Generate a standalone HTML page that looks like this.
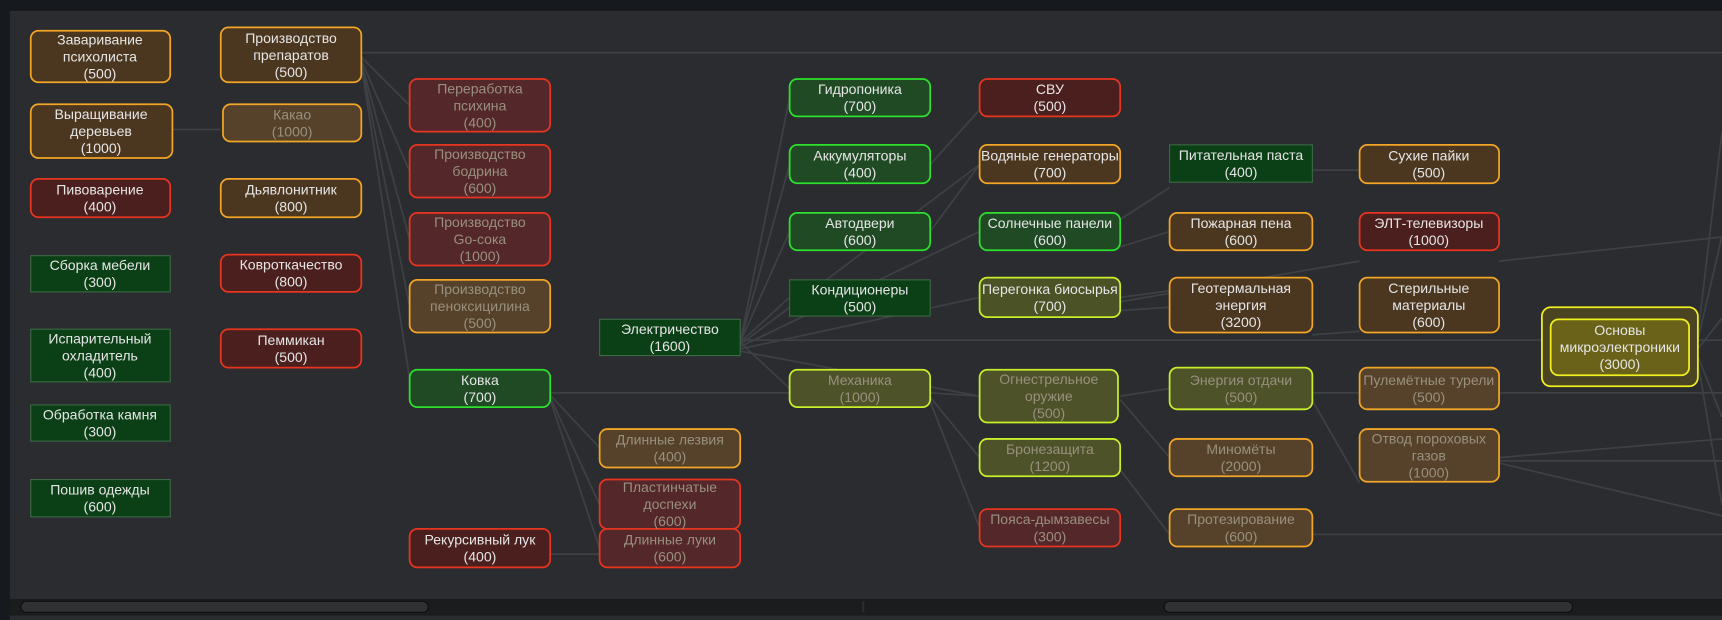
<!DOCTYPE html>
<html><head><meta charset="utf-8"><style>
html,body{margin:0;padding:0;background:#16191d;}
svg{display:block;}
text{font-family:"Liberation Sans","DejaVu Sans",sans-serif;font-size:12.8px;text-anchor:middle;}
</style></head><body>
<svg width="1722" height="620" viewBox="0 0 1568 565" preserveAspectRatio="none" xmlns="http://www.w3.org/2000/svg">
<rect x="0" y="0" width="1568" height="565" fill="#16191d"/>
<rect x="9" y="10" width="1559" height="536" fill="#2a2c2f"/>
<g stroke="#3d4044" stroke-width="1.6" fill="none">
<path d="M329 48 L1568 48"/>
<path d="M329 52 L373 96 M329 55 L373 156 M329 57 L373 218 M329 58 L373 279 M329 59 L373 345"/>
<path d="M155 118 L201 118"/>
<path d="M674 312 L719 89 M674 312 L719 150 M674 312 L719 211 M674 312 L719 271 M674 312 L719 354"/>
<path d="M674 310 L1404 310 M1546 310 L1568 310"/>
<path d="M674 314 L892 150 M674 316 L892 211 M674 318 L892 271 M674 320 L892 361"/>
<path d="M847 150 L892 100 M847 211 L892 150"/>
<path d="M501 358 L719 358"/>
<path d="M501 360 L546 408 M501 362 L546 460 M501 364 L546 500"/>
<path d="M501 505 L546 505"/>
<path d="M847 358 L892 361 M847 362 L892 417 M847 366 L892 481"/>
<path d="M1020 361 L1065 354 M1020 364 L1065 417"/>
<path d="M1020 428 L1065 487"/>
<path d="M1195 358 L1238 358 M1195 365 L1238 440"/>
<path d="M1195 155 L1238 155"/>
<path d="M1020 200 L1065 171 M1020 225 L1065 211 M1020 271 L1065 265 M1020 283 L1065 280"/>
<path d="M1020 275 L1238 238"/>
<path d="M1365 238 L1568 216"/>
<path d="M1195 305 L1238 302"/>
<path d="M1195 487 L1568 487"/>
<path d="M1365 358 L1568 358"/>
<path d="M1365 417 L1568 400 M1365 420 L1568 420 M1365 422 L1568 470"/>
<path d="M1546 305 L1568 120 M1546 310 L1568 215 M1546 318 L1568 290 M1546 325 L1568 380 M1546 330 L1568 460"/>
</g>
<g stroke-width="1.6">
<g fill="#4b3620" stroke="#f2a526">
<rect x="28" y="28" width="127" height="47" rx="7"/>
<rect x="28" y="95" width="129" height="49" rx="7"/>
<rect x="201" y="25" width="128" height="50" rx="7"/>
<rect x="201" y="163" width="128" height="35" rx="7"/>
<rect x="892" y="132" width="128" height="35" rx="7"/>
<rect x="1065" y="194" width="130" height="34" rx="7"/>
<rect x="1065" y="253" width="130" height="50" rx="7"/>
<rect x="1238" y="132" width="127" height="35" rx="7"/>
<rect x="1238" y="253" width="127" height="50" rx="7"/>
</g>
<g fill="#56422a" stroke="#f2a526">
<rect x="203" y="95" width="126" height="34" rx="7"/>
<rect x="373" y="255" width="128" height="48" rx="7"/>
<rect x="546" y="391" width="128" height="35" rx="7"/>
<rect x="1065" y="400" width="130" height="34" rx="7"/>
<rect x="1065" y="464" width="130" height="34" rx="7"/>
<rect x="1238" y="335" width="127" height="38" rx="7"/>
<rect x="1238" y="391" width="127" height="48" rx="7"/>
</g>
<g fill="#4a1f1e" stroke="#e8351f">
<rect x="28" y="163" width="127" height="35" rx="7"/>
<rect x="201" y="232" width="128" height="34" rx="7"/>
<rect x="201" y="300" width="128" height="35" rx="7"/>
<rect x="373" y="482" width="128" height="35" rx="7"/>
<rect x="892" y="72" width="128" height="34" rx="7"/>
<rect x="1238" y="194" width="127" height="34" rx="7"/>
</g>
<g fill="#54272a" stroke="#e8351f">
<rect x="373" y="72" width="128" height="48" rx="7"/>
<rect x="373" y="132" width="128" height="48" rx="7"/>
<rect x="373" y="194" width="128" height="48" rx="7"/>
<rect x="546" y="437" width="128" height="45" rx="7"/>
<rect x="546" y="482" width="128" height="35" rx="7"/>
<rect x="892" y="464" width="128" height="34" rx="7"/>
</g>
<g fill="#1f4a24" stroke="#2ee02e">
<rect x="373" y="337" width="128" height="34" rx="7"/>
<rect x="719" y="72" width="128" height="34" rx="7"/>
<rect x="719" y="132" width="128" height="35" rx="7"/>
<rect x="719" y="194" width="128" height="34" rx="7"/>
<rect x="892" y="194" width="128" height="34" rx="7"/>
</g>
<g fill="#0b3f16" stroke="#3b6a44" stroke-width="1">
<rect x="28" y="233" width="127" height="33"/>
<rect x="28" y="300" width="127" height="48"/>
<rect x="28" y="369" width="127" height="33"/>
<rect x="28" y="437" width="127" height="34"/>
<rect x="546" y="291" width="128" height="33"/>
<rect x="719" y="255" width="128" height="33"/>
<rect x="1065" y="132" width="130" height="34"/>
</g>
<g fill="#4a5226" stroke="#c8f02a">
<rect x="892" y="253" width="128" height="36" rx="7"/>
</g>
<g fill="#4e5228" stroke="#c8f02a">
<rect x="719" y="337" width="128" height="34" rx="7"/>
<rect x="892" y="337" width="126" height="48" rx="7"/>
<rect x="892" y="400" width="128" height="34" rx="7"/>
<rect x="1065" y="335" width="130" height="38" rx="7"/>
</g>
<rect x="1404" y="280" width="142" height="72" rx="8" fill="#4b4422" stroke="#f0f020"/>
<rect x="1412" y="291" width="126" height="51" rx="7" fill="#6a6218" stroke="#f0f020"/>
</g>
<g fill="#e6e6e6">
<text x="91" y="40.5">Заваривание<tspan x="91" dy="15.5">психолиста</tspan><tspan x="91" dy="15.5">(500)</tspan></text>
<text x="92" y="108.5">Выращивание<tspan x="92" dy="15.5">деревьев</tspan><tspan x="92" dy="15.5">(1000)</tspan></text>
<text x="91" y="177.25">Пивоварение<tspan x="91" dy="15.5">(400)</tspan></text>
<text x="91" y="246.25">Сборка мебели<tspan x="91" dy="15.5">(300)</tspan></text>
<text x="91" y="313">Испарительный<tspan x="91" dy="15.5">охладитель</tspan><tspan x="91" dy="15.5">(400)</tspan></text>
<text x="91" y="382.25">Обработка камня<tspan x="91" dy="15.5">(300)</tspan></text>
<text x="91" y="450.75">Пошив одежды<tspan x="91" dy="15.5">(600)</tspan></text>
<text x="265" y="39">Производство<tspan x="265" dy="15.5">препаратов</tspan><tspan x="265" dy="15.5">(500)</tspan></text>
<text x="265" y="177.25">Дьявлонитник<tspan x="265" dy="15.5">(800)</tspan></text>
<text x="265" y="245.75">Ковроткачество<tspan x="265" dy="15.5">(800)</tspan></text>
<text x="265" y="314.25">Пеммикан<tspan x="265" dy="15.5">(500)</tspan></text>
<text x="437" y="350.75">Ковка<tspan x="437" dy="15.5">(700)</tspan></text>
<text x="437" y="496.25">Рекурсивный лук<tspan x="437" dy="15.5">(400)</tspan></text>
<text x="610" y="304.25">Электричество<tspan x="610" dy="15.5">(1600)</tspan></text>
<text x="783" y="85.75">Гидропоника<tspan x="783" dy="15.5">(700)</tspan></text>
<text x="783" y="146.25">Аккумуляторы<tspan x="783" dy="15.5">(400)</tspan></text>
<text x="783" y="207.75">Автодвери<tspan x="783" dy="15.5">(600)</tspan></text>
<text x="783" y="268.25">Кондиционеры<tspan x="783" dy="15.5">(500)</tspan></text>
<text x="956" y="85.75">СВУ<tspan x="956" dy="15.5">(500)</tspan></text>
<text x="956" y="146.25">Водяные генераторы<tspan x="956" dy="15.5">(700)</tspan></text>
<text x="956" y="207.75">Солнечные панели<tspan x="956" dy="15.5">(600)</tspan></text>
<text x="956" y="267.75">Перегонка биосырья<tspan x="956" dy="15.5">(700)</tspan></text>
<text x="1130" y="145.75">Питательная паста<tspan x="1130" dy="15.5">(400)</tspan></text>
<text x="1130" y="207.75">Пожарная пена<tspan x="1130" dy="15.5">(600)</tspan></text>
<text x="1130" y="267">Геотермальная<tspan x="1130" dy="15.5">энергия</tspan><tspan x="1130" dy="15.5">(3200)</tspan></text>
<text x="1301" y="146.25">Сухие пайки<tspan x="1301" dy="15.5">(500)</tspan></text>
<text x="1301" y="207.75">ЭЛТ-телевизоры<tspan x="1301" dy="15.5">(1000)</tspan></text>
<text x="1301" y="267">Стерильные<tspan x="1301" dy="15.5">материалы</tspan><tspan x="1301" dy="15.5">(600)</tspan></text>
<text x="1475" y="305.5">Основы<tspan x="1475" dy="15.5">микроэлектроники</tspan><tspan x="1475" dy="15.5">(3000)</tspan></text>
</g>
<g fill="#98907e">
<text x="266" y="108.75">Какао<tspan x="266" dy="15.5">(1000)</tspan></text>
<text x="437" y="85">Переработка<tspan x="437" dy="15.5">психина</tspan><tspan x="437" dy="15.5">(400)</tspan></text>
<text x="437" y="145">Производство<tspan x="437" dy="15.5">бодрина</tspan><tspan x="437" dy="15.5">(600)</tspan></text>
<text x="437" y="207">Производство<tspan x="437" dy="15.5">Go-сока</tspan><tspan x="437" dy="15.5">(1000)</tspan></text>
<text x="437" y="268">Производство<tspan x="437" dy="15.5">пеноксицилина</tspan><tspan x="437" dy="15.5">(500)</tspan></text>
<text x="610" y="405.25">Длинные лезвия<tspan x="610" dy="15.5">(400)</tspan></text>
<text x="610" y="448.5">Пластинчатые<tspan x="610" dy="15.5">доспехи</tspan><tspan x="610" dy="15.5">(600)</tspan></text>
<text x="610" y="496.25">Длинные луки<tspan x="610" dy="15.5">(600)</tspan></text>
<text x="783" y="350.75">Механика<tspan x="783" dy="15.5">(1000)</tspan></text>
<text x="955" y="350">Огнестрельное<tspan x="955" dy="15.5">оружие</tspan><tspan x="955" dy="15.5">(500)</tspan></text>
<text x="956" y="413.75">Бронезащита<tspan x="956" dy="15.5">(1200)</tspan></text>
<text x="956" y="477.75">Пояса-дымзавесы<tspan x="956" dy="15.5">(300)</tspan></text>
<text x="1130" y="350.75">Энергия отдачи<tspan x="1130" dy="15.5">(500)</tspan></text>
<text x="1130" y="413.75">Миномёты<tspan x="1130" dy="15.5">(2000)</tspan></text>
<text x="1130" y="477.75">Протезирование<tspan x="1130" dy="15.5">(600)</tspan></text>
<text x="1301" y="350.75">Пулемётные турели<tspan x="1301" dy="15.5">(500)</tspan></text>
<text x="1301" y="404">Отвод пороховых<tspan x="1301" dy="15.5">газов</tspan><tspan x="1301" dy="15.5">(1000)</tspan></text>
</g>
<rect x="9" y="546" width="1559" height="15" fill="#1b1c1e"/>
<rect x="19" y="548" width="371" height="10" rx="5" fill="#303133" stroke="#0e0e0e" stroke-width="1"/>
<rect x="785" y="548" width="2" height="10" fill="#2c2d2f"/>
<rect x="1060" y="548" width="372" height="10" rx="5" fill="#303133" stroke="#0e0e0e" stroke-width="1"/>
<rect x="9" y="561" width="1559" height="4" fill="#2a2c2f"/>
</svg>
</body></html>
